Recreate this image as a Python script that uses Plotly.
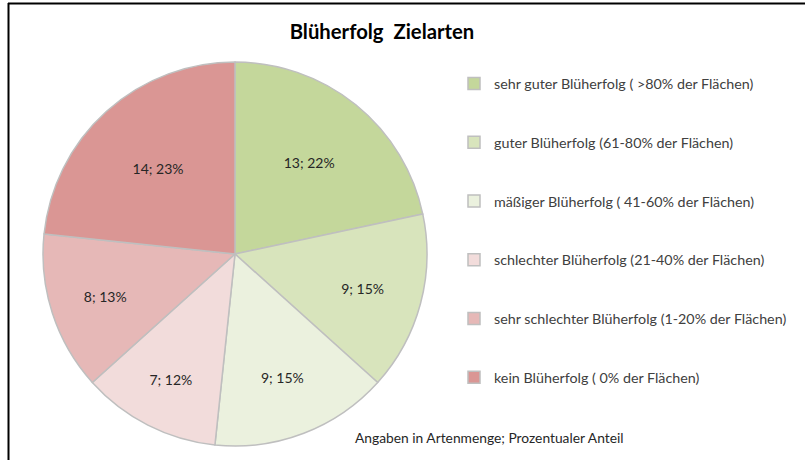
import plotly.graph_objects as go

categories = [
    "sehr guter Blüherfolg ( >80% der Flächen)",
    "guter Blüherfolg (61-80% der Flächen)",
    "mäßiger Blüherfolg ( 41-60% der Flächen)",
    "schlechter Blüherfolg (21-40% der Flächen)",
    "sehr schlechter Blüherfolg (1-20% der Flächen)",
    "kein Blüherfolg ( 0% der Flächen)",
]
values = [13, 9, 9, 7, 8, 14]
colors = ["#C4D79B", "#D8E4BC", "#EBF1DE", "#F2DCDB", "#E6B8B7", "#DA9694"]

W, H = 805, 460
FONT = "Lato"

legend_labels = ["\u00a0<br>" + c + "<br>\u00a0" for c in categories]

fig = go.Figure(
    go.Pie(
        labels=legend_labels,
        values=values,
        sort=False,
        direction="clockwise",
        rotation=0,
        marker=dict(colors=colors, line=dict(color="#BFBFBF", width=1.5)),
        texttemplate="%{value}; %{percent:.0%}",
        textposition="inside",
        insidetextorientation="horizontal",
        textfont=dict(family=FONT, size=14, color="#262626"),
        hoverinfo="value+percent",
        domain=dict(x=[43 / W, 427 / W], y=[(H - 446) / H, (H - 62) / H]),
    )
)

fig.update_layout(
    width=W,
    height=H,
    margin=dict(l=0, r=0, t=0, b=0),
    paper_bgcolor="white",
    plot_bgcolor="white",
    font=dict(family=FONT, color="#404040"),
    title=dict(
        text="<b>Blüherfolg  Zielarten</b>",
        x=382 / W,
        xanchor="center",
        y=1 - 32 / H,
        yanchor="middle",
        font=dict(family=FONT, size=20.3, color="#000000"),
    ),
    legend=dict(
        x=454 / W,
        xanchor="left",
        y=1 - 49 / H,
        yanchor="top",
        font=dict(family=FONT, size=14.3, color="#404040"),
        valign="middle",
        itemwidth=30,
        bgcolor="rgba(0,0,0,0)",
    ),
    annotations=[
        dict(
            text="Angaben in Artenmenge; Prozentualer Anteil",
            x=353 / W,
            y=1 - 437 / H,
            xref="paper",
            yref="paper",
            xanchor="left",
            yanchor="middle",
            showarrow=False,
            font=dict(family=FONT, size=13.8, color="#262626"),
        )
    ],
    shapes=[
        dict(type="line", xref="paper", yref="paper",
             x0=8 / W, x1=1, y0=1 - 3.5 / H, y1=1 - 3.5 / H,
             line=dict(color="#000000", width=2)),
        dict(type="line", xref="paper", yref="paper",
             x0=8.5 / W, x1=8.5 / W, y0=0, y1=1 - 3 / H,
             line=dict(color="#000000", width=2)),
    ],
)

fig.write_html(
    "out.html",
    config={"displayModeBar": False},
    post_script="document.body.style.margin='0';",
)
